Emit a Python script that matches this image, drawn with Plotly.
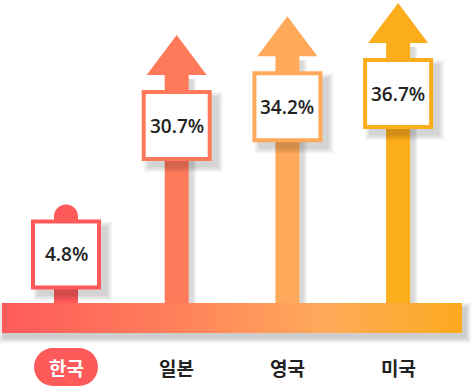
import plotly.graph_objects as go

# ---- data ----
countries = ["한국", "일본", "영국", "미국"]
values = [4.8, 30.7, 34.2, 36.7]
value_labels = ["4.8%", "30.7%", "34.2%", "36.7%"]
highlight = "한국"

# ---- styles ----
colors = ["#FF5A5A", "#FF7A5B", "#FFA95A", "#FCAD1C"]
W, H = 476, 387
P = 0.74            # display power scale for arrow lengths
PPU = 18.0          # pixels per display unit
X_STEP, X_FIRST = 110.7, 66.0


def T(v):
    return v ** P


top = T(max(values)) + 3 / PPU
yr = [top - H / PPU, top]
xr = [-X_FIRST / X_STEP, (W - X_FIRST) / X_STEP]


def ypx(p):  # pixel row -> y data
    return top - p / PPU


def xpx(p):
    return (p - X_FIRST) / X_STEP


fig = go.Figure()
shapes = []
annotations = []

base_top, base_bot = ypx(303), ypx(333)
bx0, bx1 = xpx(2), xpx(462)

# base shadow
for k in range(4):
    e = 1.5 * (k + 1)
    shapes.append(dict(type="rect", xref="x", yref="y",
                       x0=xpx(2 + 3 - e), x1=xpx(462 + 3 + e),
                       y0=ypx(333 + 4 + e), y1=ypx(303 + 6 - e),
                       fillcolor="rgba(0,0,0,0.05)", line_width=0, layer="below"))

for i, (c, v, col) in enumerate(zip(countries, values, colors)):
    t = T(v)
    is_hl = (c == highlight)
    if is_hl:
        box_top, box_bot = 15, 85
        shapes.append(dict(type="rect", xref="x", yref="y", xsizemode="pixel", xanchor=i,
                           x0=-12, x1=12, y0=base_top, y1=t - 12 / PPU,
                           fillcolor=col, line_width=0))
        shapes.append(dict(type="circle", xref="x", yref="y", xsizemode="pixel", ysizemode="pixel",
                           xanchor=i, yanchor=t, x0=-12, x1=12, y0=0, y1=-24,
                           fillcolor=col, line_width=0))
    else:
        box_top, box_bot = 55, 126
        for k in range(3):
            shapes.append(dict(type="rect", xref="x", yref="y", xsizemode="pixel", xanchor=i,
                               x0=-12 + 3, x1=12 + 3 + 1.5 * (k + 1), y0=base_top, y1=t - 44 / PPU,
                               fillcolor="rgba(0,0,0,0.05)", line_width=0))
        shapes.append(dict(type="rect", xref="x", yref="y", xsizemode="pixel", xanchor=i,
                           x0=-12, x1=12, y0=base_top, y1=t - 39 / PPU,
                           fillcolor=col, line_width=0))
        shapes.append(dict(type="path", xref="x", yref="y", xsizemode="pixel", ysizemode="pixel",
                           xanchor=i, yanchor=t, path="M 0 0 L 30 -40 L -30 -40 Z",
                           fillcolor=col, line_width=0))
    # box shadow
    for k in range(4):
        e = 1.5 * (k + 1)
        shapes.append(dict(type="rect", xref="x", yref="y", xsizemode="pixel", ysizemode="pixel",
                           xanchor=i, yanchor=t, x0=-35 + 5 - e + 3, x1=35 + 5 + e,
                           y0=-box_top - 5 + e - 3, y1=-box_bot - 5 - e,
                           fillcolor="rgba(0,0,0,0.045)", line_width=0))
    # box
    shapes.append(dict(type="rect", xref="x", yref="y", xsizemode="pixel", ysizemode="pixel",
                       xanchor=i, yanchor=t, x0=-35, x1=35, y0=-box_top, y1=-box_bot,
                       fillcolor=col, line_width=0))
    shapes.append(dict(type="rect", xref="x", yref="y", xsizemode="pixel", ysizemode="pixel",
                       xanchor=i, yanchor=t, x0=-31, x1=31, y0=-box_top - 4, y1=-box_bot + 4,
                       fillcolor="white", line_width=0))
    annotations.append(dict(x=i, y=t, xref="x", yref="y", yshift=-(box_top + box_bot) / 2,
                            text=value_labels[i], showarrow=False,
                            font=dict(family="Open Sans", size=19, color="#222222", weight=600)))
    # category label
    ly = ypx(367)
    if is_hl:
        shapes.append(dict(type="rect", xref="x", yref="y", xsizemode="pixel", ysizemode="pixel",
                           xanchor=i, yanchor=ly, x0=-13, x1=13, y0=19, y1=-19,
                           fillcolor="#FF5A5A", line_width=0))
        for dx in (-13, 13):
            shapes.append(dict(type="circle", xref="x", yref="y", xsizemode="pixel", ysizemode="pixel",
                               xanchor=i, yanchor=ly, x0=dx - 19, x1=dx + 19, y0=19, y1=-19,
                               fillcolor="#FF5A5A", line_width=0))
    annotations.append(dict(x=i, y=ly, xref="x", yref="y", text=c, showarrow=False,
                            font=dict(family="Noto Sans CJK KR", size=19,
                                      color="white" if is_hl else "#222222", weight=700)))

# gradient base bar
fig.add_trace(go.Scatter(x=[bx0, bx1, bx1, bx0, bx0], y=[base_top, base_top, base_bot, base_bot, base_top],
                         mode="lines", fill="toself", line=dict(width=0),
                         fillgradient=dict(type="horizontal",
                                           colorscale=[[0, "#FF5A5A"], [0.35, "#FF7D5A"],
                                                       [0.7, "#FFAA5A"], [1, "#FBAA1E"]]),
                         hoverinfo="skip", showlegend=False))

fig.update_layout(width=W, height=H, margin=dict(l=0, r=0, t=0, b=0),
                  paper_bgcolor="white", plot_bgcolor="white",
                  xaxis=dict(range=xr, visible=False, fixedrange=True),
                  yaxis=dict(range=yr, visible=False, fixedrange=True),
                  shapes=shapes, annotations=annotations, showlegend=False)
fig.write_html("out.html", config=dict(displayModeBar=False),
               post_script="document.body.style.margin='0';document.body.style.overflow='hidden';")
